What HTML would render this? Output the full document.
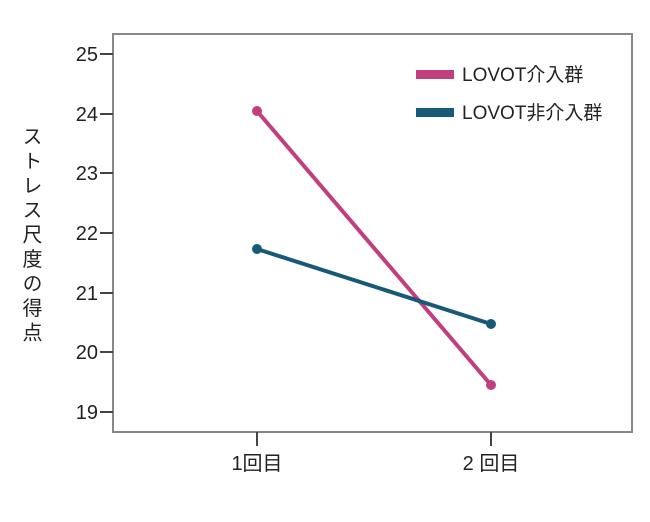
<!DOCTYPE html>
<html><head><meta charset="utf-8"><style>body{margin:0;background:#fff}</style></head><body>
<svg width="650" height="517" xmlns="http://www.w3.org/2000/svg" font-family="'Liberation Sans','Noto Sans CJK JP',sans-serif">
<rect x="113" y="34" width="519" height="398" fill="none" stroke="#888" stroke-width="2"/>
<g stroke="#444" stroke-width="2">
<line x1="100" y1="54" x2="113" y2="54"/><line x1="100" y1="114" x2="113" y2="114"/><line x1="100" y1="173" x2="113" y2="173"/><line x1="100" y1="233" x2="113" y2="233"/><line x1="100" y1="293" x2="113" y2="293"/><line x1="100" y1="352" x2="113" y2="352"/><line x1="100" y1="412" x2="113" y2="412"/>
<line x1="257" y1="432" x2="257" y2="446"/><line x1="491" y1="432" x2="491" y2="446"/>
</g>
<g font-size="20" fill="#222" text-anchor="end">
<text x="98" y="61">25</text><text x="98" y="121">24</text><text x="98" y="180">23</text><text x="98" y="240">22</text><text x="98" y="300">21</text><text x="98" y="359">20</text><text x="98" y="419">19</text>
</g>
<g font-size="20" fill="#222" text-anchor="middle">
<text x="257" y="470">1回目</text><text x="491" y="470">2 回目</text>
</g>
<text font-size="20" fill="#222" letter-spacing="4.5" style="writing-mode:vertical-rl" x="30" y="126">ストレス尺度の得点</text>
<line x1="257" y1="111" x2="491" y2="385" stroke="#c0407f" stroke-width="4"/>
<circle cx="257" cy="111" r="5" fill="#c0407f"/><circle cx="491" cy="385" r="5" fill="#c0407f"/>
<line x1="257" y1="249" x2="491" y2="324" stroke="#165a78" stroke-width="4"/>
<circle cx="257" cy="249" r="5" fill="#165a78"/><circle cx="491" cy="324" r="5" fill="#165a78"/>
<rect x="416" y="70" width="38" height="9" fill="#c0407f"/>
<rect x="416" y="108" width="38" height="9" fill="#165a78"/>
<g font-size="19" fill="#222">
<text x="462" y="81">LOVOT介入群</text><text x="462" y="119">LOVOT非介入群</text>
</g>
</svg>
</body></html>
